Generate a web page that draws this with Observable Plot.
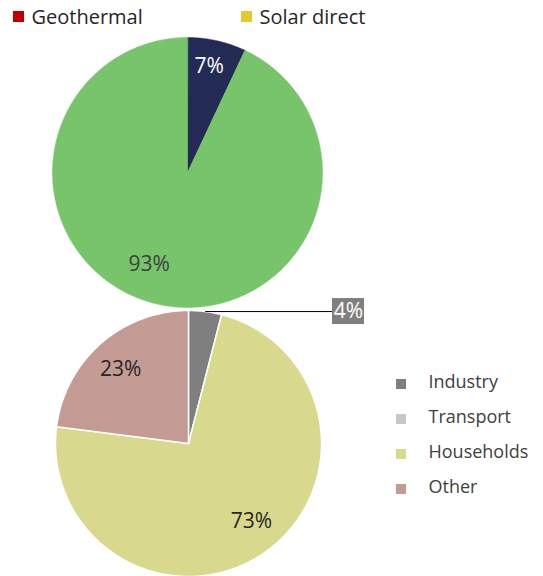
<!DOCTYPE html>
<html><head><meta charset="utf-8">
<script src="https://cdn.jsdelivr.net/npm/d3@7"></script>
<script src="https://cdn.jsdelivr.net/npm/@observablehq/plot@0.6"></script>
<style>html,body{margin:0;padding:0;background:#fff} svg{display:block}</style>
</head><body><div id="chart"></div>
<script>
// ---- data ----
const topNames = ["Share A", "Share B"];
const topValues = [7, 93];
const topColors = ["#232b55", "#77c46b"];
const topLegendNames = ["Geothermal", "Solar direct"];
const topLegendColors = ["#c00000", "#e3c92e"];
const sectorNames = ["Industry", "Transport", "Households", "Other"];
const sectorValues = [4, 0, 73, 23];
const sectorColors = ["#7f7f7f", "#c8c8c8", "#d9d98e", "#c49b94"];

// ---- layout ----
const W = 543, H = 576;
const FONT = "'Open Sans', 'Noto Sans', sans-serif";
const pies = {
  top: {cx: 187, cy: 172, r: 135, labelR: [0.80, 0.74], nudgeDeg: [-1, 10]},
  bottom: {cx: 188, cy: 443, r: 133, labelR: [0.75, 0.75, 0.75, 0.755], nudgeDeg: [0, 0, -5, -1]}
};
const smallShare = 5; // slices below this get a callout
const calloutX = 348;
const topLegendX = [13, 241], topLegendY = 17;
const sideLegendX = 396, sideLegendY0 = 382, sideLegendStep = 35;

function pieData(names, values, colors, geo, textColors) {
  const arcs = d3.pie().sort(null).value(d => d)(values);
  const polys = [], labels = [], callouts = [];
  arcs.forEach((a, i) => {
    if (a.endAngle - a.startAngle <= 0) return;
    const id = names[i];
    polys.push({id, color: colors[i], x: geo.cx, y: geo.cy});
    const n = Math.max(2, Math.ceil((a.endAngle - a.startAngle) / 0.01));
    for (let k = 0; k <= n; k++) {
      const t = a.startAngle + (a.endAngle - a.startAngle) * k / n;
      polys.push({id, color: colors[i], x: geo.cx + geo.r * Math.sin(t), y: geo.cy - geo.r * Math.cos(t)});
    }
    const mid = (a.startAngle + a.endAngle) / 2;
    const text = values[i] + "%";
    if (values[i] < smallShare) {
      const ex = geo.cx + geo.r * Math.sin(mid), ey = geo.cy - geo.r * Math.cos(mid);
      callouts.push({text, x0: ex, y0: ey, x: calloutX, y: ey, color: colors[i]});
    } else {
      const ang = mid + geo.nudgeDeg[i] * Math.PI / 180;
      const rr = geo.r * geo.labelR[i];
      labels.push({text, x: geo.cx + rr * Math.sin(ang), y: geo.cy - rr * Math.cos(ang), fill: textColors[i]});
    }
  });
  return {polys, labels, callouts};
}

const topPie = pieData(topNames, topValues, topColors, pies.top, ["#ffffff", "#404040"]);
const botPie = pieData(sectorNames, sectorValues, sectorColors, pies.bottom, ["#ffffff", "#262626", "#262626", "#262626"]);
const callouts = [...topPie.callouts, ...botPie.callouts];
const labels = [...topPie.labels, ...botPie.labels];

const topLegend = topLegendNames.map((name, i) => ({name, color: topLegendColors[i], x: topLegendX[i], y: topLegendY}));
const sideLegend = sectorNames.map((name, i) => ({name, color: sectorColors[i], x: sideLegendX, y: sideLegendY0 + i * sideLegendStep}));

const chart = Plot.plot({
  width: W, height: H, margin: 0,
  style: {fontFamily: FONT, background: "#fff"},
  x: {domain: [0, W], range: [0, W], axis: null},
  y: {domain: [0, H], range: [0, H], axis: null},
  marks: [
    Plot.line(topPie.polys, {x: "x", y: "y", z: "id", fill: "color", stroke: "color", strokeWidth: 0.5, curve: "linear-closed"}),
    Plot.line(botPie.polys, {x: "x", y: "y", z: "id", fill: "color", stroke: "#fff", strokeWidth: 1.5, curve: "linear-closed"}),
    Plot.link(callouts, {x1: "x0", y1: "y0", x2: "x", y2: "y", stroke: "#000", strokeWidth: 1}),
    Plot.rect(callouts, {x1: d => d.x - 16, x2: d => d.x + 16, y1: d => d.y - 13, y2: d => d.y + 13, fill: "color"}),
    Plot.text(callouts, {x: "x", y: "y", text: "text", fill: "#fff", fontSize: 21}),
    Plot.text(labels, {x: "x", y: "y", text: "text", fill: "fill", fontSize: 21}),
    Plot.rect(topLegend, {x1: d => d.x, x2: d => d.x + 11, y1: d => d.y - 6, y2: d => d.y + 5, fill: "color"}),
    Plot.text(topLegend, {x: d => d.x + 18, y: "y", text: "name", textAnchor: "start", fill: "#262626", fontSize: 20}),
    Plot.rect(sideLegend, {x1: d => d.x, x2: d => d.x + 10, y1: d => d.y - 3, y2: d => d.y + 7, fill: "color"}),
    Plot.text(sideLegend, {x: d => d.x + 32, y: "y", text: "name", textAnchor: "start", fill: "#404040", fontSize: 18})
  ]
});
document.getElementById("chart").appendChild(chart);
</script>
</body></html>
